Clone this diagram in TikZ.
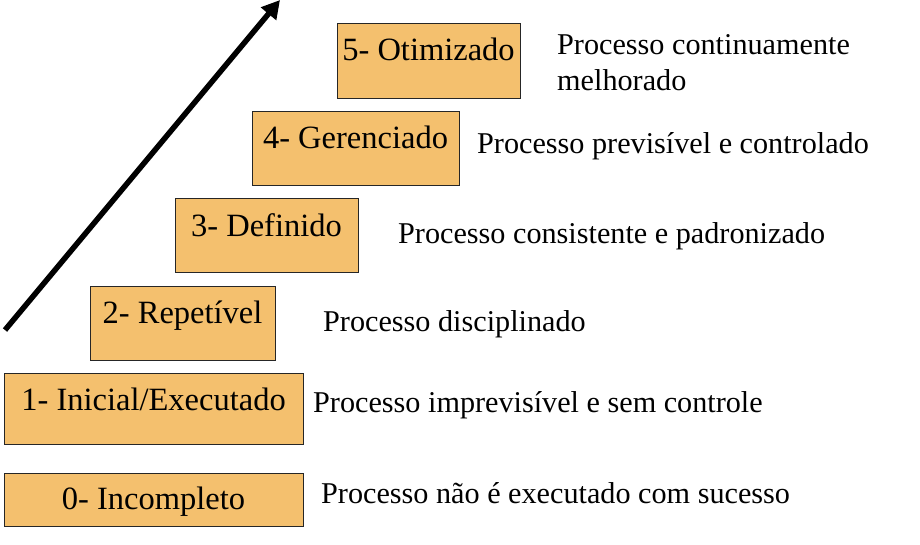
\documentclass[tikz,border=0pt]{standalone}
\usepackage{fontspec}
\setmainfont{Liberation Serif}
\usetikzlibrary{arrows.meta}
\definecolor{boxfill}{RGB}{244,192,110}
\tikzset{
  lvl/.style={draw=black!85, line width=1pt, fill=boxfill, inner sep=0pt, anchor=north west},
  lvltext/.style={anchor=base, inner sep=0pt, font=\fontsize{32.5}{36}\selectfont},
  desc/.style={anchor=base west, inner sep=0pt, align=left, font=\fontsize{30.2}{36}\selectfont},
}
\begin{document}
\begin{tikzpicture}[x=1pt,y=-1pt]
\useasboundingbox (0,0) rectangle (920,544);
% boxes
\node[lvl, minimum width=183pt, minimum height=75pt] (b5) at (337,23) {};
\node[lvl, minimum width=207pt, minimum height=74pt] (b4) at (252,111) {};
\node[lvl, minimum width=183pt, minimum height=74pt] (b3) at (175,198) {};
\node[lvl, minimum width=185pt, minimum height=74pt] (b2) at (90,286) {};
\node[lvl, minimum width=299pt, minimum height=71pt] (b1) at (4,373) {};
\node[lvl, minimum width=299pt, minimum height=53pt] (b0) at (4,473) {};
% labels
\node[lvltext] (t5) at (428.5,60) {5- Otimizado};
\node[lvltext] (t4) at (355.5,148) {4- Gerenciado};
\node[lvltext] (t3) at (266.5,236) {3- Definido};
\node[lvltext] (t2) at (182.5,323) {2- Repetível};
\node[lvltext] (t1) at (153.5,410) {1- Inicial/Executado};
\node[lvltext] (t0) at (153.5,509) {0- Incompleto};
% descriptions
\node[desc] (d5) at (557,90) {Processo continuamente\\melhorado};
\node[desc] (d4) at (477,153) {Processo previsível e controlado};
\node[desc] (d3) at (398,243) {Processo consistente e padronizado};
\node[desc] (d2) at (323,331) {Processo disciplinado};
\node[desc] (d1) at (313,412) {Processo imprevisível e sem controle};
\node[desc] (d0) at (321,503) {Processo não é executado com sucesso};
% arrow
\coordinate (tail) at (5,330);
\coordinate (tip) at (280,0);
\draw[line width=5.5pt, -{Triangle[length=18pt,width=19pt]}] (tail) -- (tip);
\end{tikzpicture}
\end{document}
